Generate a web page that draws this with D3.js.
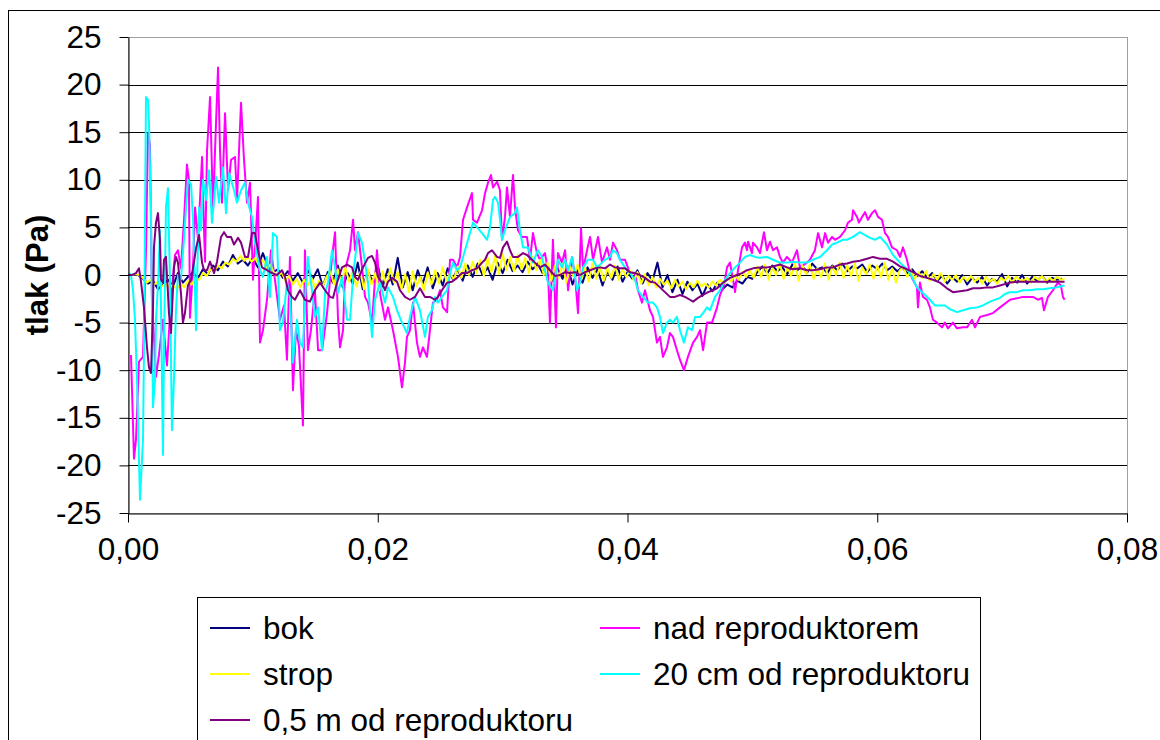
<!DOCTYPE html>
<html><head><meta charset="utf-8">
<script src="https://cdn.jsdelivr.net/npm/d3@7"></script>
<style>
html,body{margin:0;padding:0;background:#fff;}
svg{display:block;}
text{font-family:"Liberation Sans",Arial,sans-serif;}
</style></head><body>
<svg id="chart" width="1160" height="740"></svg>
<script>
// ---------- DATA ----------
const seriesNames = ["bok", "nad reproduktorem", "strop", "20 cm od reproduktoru", "0,5 m od reproduktoru"];
const seriesColors = ["#000080", "#ff00ff", "#ffff00", "#00ffff", "#800080"];
const yTicks = [-25, -20, -15, -10, -5, 0, 5, 10, 15, 20, 25];
const xTicks = [0, 0.02, 0.04, 0.06, 0.08];
const yTitle = "tlak (Pa)";

// bok: regularly sampled (every 0.4 ms), values in Pa
const bokStepMs = 0.4;
const bokValues = [0,0,0,
-0.4,-0.9,-0.6,-1.5,-1.0,
-0.5,-1.2,0.2,-0.8,-0.2,0.3,-0.4,
0.6,0.1,1.0,0.5,1.4,0.9,2.1,1.2,1.6,1.0,1.8,
0.8,2.3,0.9,0.3,
0.6,-0.3,0.4,-0.6,0.2,-0.8,0.5,-0.4,
0.6,-1.2,0.3,-0.8,1.0,-1.3,0.2,-0.9,1.3,-1.5,0.4,-0.7,1.0,-1.2,0.6,-1.0,1.8,-1.3,0.3,-1.6,0.5,-0.9,0.8,-1.4,0.2,-1.1,0.7,
-0.4,0.6,-0.6,1.0,-0.2,1.2,0.0,0.8,-0.5,1.3,0.2,1.6,0.4,1.0,0.3,1.4,0.6,1.2,0.2,1.1,
-0.6,0.7,-0.4,0.9,-1.0,0.5,-0.8,0.8,-0.3,0.6,-1.1,0.4,-0.5,0.9,-0.7,0.3,-0.4,0.5,-0.9,0.2,
-0.6,1.3,-1.3,0.0,-1.8,-0.5,-2.0,-0.7,-1.6,-0.9,-2.2,-1.0,-1.7,-0.8,-1.5,
-1.0,-1.3,-0.6,-0.9,-0.2,-0.4,
0.3,0.9,0.2,1.0,0.4,0.8,0.1,1.1,0.5,0.9,0.3,1.2,0.6,0.8,0.2,1.0,0.5,1.2,0.4,0.9,0.7,1.1,0.3,1.0,0.6,1.2,0.5,0.9,0.4,
0.8,0.2,0.6,-0.1,0.4,-0.3,0.2,-0.6,-0.1,-0.9,-0.2,-0.7,0.0,-1.0,-0.3,-0.8,-0.2,-1.1,-0.4,-0.7,0.1,-1.2,-0.3,-0.8,0.0,-0.9,-0.2,-0.6,-0.1,-0.8,-0.3,-0.5,-0.4];

// strop: regularly sampled (every 0.3 ms), values in Pa
const stropStepMs = 0.3;
const stropValues = [0,0,0.1,0,
-0.3,-0.8,-0.5,-1.0,-0.7,-1.2,-0.9,-1.4,-1.0,-1.5,
-0.9,-1.3,-0.6,-1.0,-0.3,-0.5,0.2,-0.1,0.6,0.4,1.0,0.7,1.3,
1.1,1.7,1.4,2.0,1.5,1.9,1.4,
1.8,1.0,1.6,0.6,1.1,0.2,
-0.2,0.3,-0.6,-0.1,-1.0,-0.4,-1.3,-0.5,-1.1,-0.3,-1.4,-0.6,-1.2,-0.2,
0.4,-1.0,0.6,-0.9,0.8,-0.7,0.5,-1.2,0.3,-1.5,0.6,-1.0,0.2,-1.6,0.4,-1.1,0.7,-0.8,0.3,-1.5,0.1,-1.8,0.4,-1.2,-0.2,-1.6,0.3,-1.0,0.5,-0.9,0.8,-0.6,0.2,
-0.5,0.9,-0.3,1.2,0.0,1.4,0.2,1.6,-0.1,1.8,0.3,2.0,0.1,2.2,0.5,1.9,0.4,
2.1,0.6,1.8,0.2,1.9,0.5,1.6,0.0,1.3,
-0.6,1.0,-0.3,1.2,-0.8,0.9,-0.2,1.1,-0.5,0.8,-0.7,1.2,-0.4,0.9,-0.6,0.7,-0.3,1.0,-0.5,0.6,-0.2,
0.5,-0.6,0.3,-0.9,0.1,-1.1,-0.2,-1.3,-0.4,-1.0,-0.6,-1.4,-0.5,-1.2,-0.7,-1.5,-0.8,-1.3,-0.6,-1.2,
-0.9,-1.3,-0.7,-1.1,-0.5,-0.9,-0.3,-0.7,0.0,-0.5,0.3,-0.2,0.5,
-0.3,0.9,-0.2,1.1,-0.5,0.8,0.0,1.2,-0.4,0.9,-0.1,1.3,-0.6,1.0,0.1,1.1,-0.4,0.7,-0.2,1.2,-0.5,0.9,0.0,1.3,-0.3,1.0,-0.1,1.2,-0.6,0.8,0.1,1.1,-0.4,1.0,-0.2,1.3,-0.5,0.7,-0.8,0.5,
0.8,-0.2,0.5,-0.4,0.3,-0.3,0.4,-0.6,0.1,-0.5,0.2,-0.7,-0.1,-0.5,0.0,-0.8,-0.2,-0.6,-0.1,-0.7,
-0.3,-0.9,-0.2,-0.7,-0.4,-0.9,-0.3,-0.6,-0.1,-0.8,-0.2,-0.5,-0.6,-0.3,-0.8,-0.2,-0.5,-0.1,-0.7,-0.3,-0.6,-0.2,-0.5,-0.4];

// nad reproduktorem: [time ms, Pa]
const nadReproduktorem = [[0.24,-8.4],[0.48,-19.3],[0.64,-17.3],[0.88,-9.1],[1.20,-8.6],[1.44,2.6],[1.60,14.9],[1.76,13.7],[1.92,-2.6],[2.24,-10.7],[2.48,-8.4],[2.80,-4.7],[3.12,-9.5],[3.44,-2.6],[3.76,2.1],[4.00,2.6],[4.24,0.7],[4.48,5.6],[4.72,11.6],[4.88,10.0],[4.96,-4.5],[5.20,0.5],[5.37,7.1],[5.61,3.7],[5.93,12.4],[6.09,4.7],[6.17,1.4],[6.33,13.1],[6.57,18.7],[6.81,6.8],[6.97,13.1],[7.21,21.8],[7.37,13.1],[7.53,7.6],[7.77,17.0],[8.01,8.9],[8.25,12.1],[8.57,12.4],[8.73,7.9],[9.05,18.1],[9.29,12.1],[9.53,7.6],[9.77,9.7],[10.01,-0.5],[10.41,8.2],[10.57,-7.1],[10.81,-5.8],[11.13,-2.6],[11.45,2.6],[11.77,-0.5],[12.17,-4.7],[12.49,-3.2],[12.73,-8.9],[12.97,1.9],[13.21,-12.1],[13.45,-5.8],[13.69,-7.4],[14.01,-15.8],[14.17,2.6],[14.41,-7.9],[14.65,-5.8],[14.97,-1.6],[15.22,-7.9],[15.54,-7.9],[15.94,-4.0],[16.34,1.9],[16.58,4.5],[16.82,-4.7],[16.98,-7.6],[17.22,-5.8],[17.38,0.5],[17.78,2.6],[18.02,5.8],[18.18,2.6],[18.42,4.5],[18.74,0.8],[18.98,-2.3],[19.22,-2.9],[19.54,-5.0],[19.94,2.6],[20.18,-1.9],[20.58,-4.7],[20.82,-3.4],[21.22,-5.8],[21.62,-8.6],[21.94,-11.8],[22.18,-9.2],[22.34,-6.5],[22.58,-5.8],[22.82,-2.9],[23.14,-7.1],[23.38,-8.6],[23.62,-7.6],[23.94,-8.6],[24.18,-5.8],[24.42,-2.9],[24.74,-2.6],[24.98,-1.6],[25.22,-3.4],[25.55,-3.9],[25.79,1.6],[26.03,1.6],[26.35,0.8],[26.59,1.9],[26.83,5.8],[27.15,7.1],[27.55,8.6],[27.63,5.8],[27.95,5.5],[28.35,6.8],[28.59,8.6],[28.83,9.7],[29.07,10.5],[29.23,9.2],[29.55,9.8],[29.79,8.9],[29.95,3.7],[30.19,6.1],[30.35,9.2],[30.59,6.1],[30.83,10.5],[30.99,7.1],[31.23,4.7],[31.55,4.0],[31.95,4.0],[32.19,1.6],[32.43,4.4],[32.75,2.3],[32.99,1.6],[33.39,2.3],[33.63,0.5],[33.79,-5.0],[34.03,3.7],[34.27,-5.5],[34.43,2.3],[34.75,1.3],[35.00,2.6],[35.24,-1.6],[35.56,1.9],[35.80,-0.2],[36.04,-4.0],[36.28,4.9],[36.44,0.5],[36.76,2.6],[37.00,4.0],[37.24,1.6],[37.64,4.0],[37.96,1.3],[38.36,2.9],[38.60,1.6],[38.84,3.4],[39.16,2.6],[39.40,1.6],[39.80,1.6],[40.20,0.2],[40.60,0.2],[40.84,-1.6],[41.16,-2.9],[41.40,-1.6],[41.80,-3.7],[42.04,-4.4],[42.36,-7.1],[42.60,-6.5],[42.84,-8.6],[43.16,-7.6],[43.40,-6.1],[43.64,-6.5],[43.96,-7.9],[44.20,-8.9],[44.52,-10.0],[44.84,-8.6],[45.25,-7.1],[45.57,-6.5],[45.81,-5.8],[46.05,-7.9],[46.37,-5.0],[46.77,-5.0],[47.17,-3.4],[47.41,-2.1],[47.73,-1.1],[47.97,0.8],[48.21,1.3],[48.45,-0.5],[48.61,-1.8],[48.85,0.5],[49.17,2.9],[49.41,3.4],[49.57,2.6],[49.65,3.5],[49.97,2.3],[50.05,3.4],[50.37,2.9],[50.61,2.3],[50.93,4.5],[51.17,2.6],[51.41,3.5],[51.65,2.6],[51.97,2.9],[52.21,1.9],[52.45,1.3],[52.77,1.9],[53.17,1.3],[53.57,2.6],[53.81,0.8],[54.37,1.3],[54.61,1.6],[55.01,2.6],[55.26,4.4],[55.58,2.9],[55.82,4.4],[56.06,3.4],[56.38,4.0],[56.62,3.7],[57.02,4.0],[57.42,4.7],[57.66,5.5],[57.98,5.8],[58.06,6.8],[58.38,6.1],[58.54,5.5],[58.78,6.1],[59.02,6.6],[59.26,5.8],[59.58,6.5],[59.82,6.8],[60.06,6.1],[60.38,5.8],[60.62,4.4],[60.86,4.0],[61.18,2.9],[61.58,2.6],[61.82,1.9],[62.06,2.9],[62.38,1.6],[62.62,0.2],[62.86,-0.5],[63.18,-1.3],[63.26,-3.4],[63.42,-0.8],[63.66,-2.3],[63.98,-2.6],[64.22,-3.4],[64.46,-4.7],[64.78,-5.0],[65.18,-5.5],[65.42,-5.0],[65.66,-5.6],[66.06,-5.0],[66.38,-5.6],[66.87,-5.5],[67.19,-5.5],[67.59,-4.7],[67.83,-5.5],[68.23,-4.4],[68.79,-4.2],[69.27,-4.0],[69.83,-3.4],[70.63,-2.6],[71.67,-2.3],[72.47,-2.3],[72.87,-2.6],[73.19,-2.4],[73.35,-3.7],[73.67,-2.3],[74.07,-1.6],[74.47,-0.8],[74.71,-1.1],[74.87,-2.3],[75.0,-2.6]];

// 20 cm od reproduktoru: [time ms, Pa]
const cm20OdReproduktoru = [[0.08,0.2],[0.24,0],[0.40,-1.6],[0.56,-4.7],[0.72,-11.0],[0.96,-23.6],[1.20,-17.3],[1.28,-7.9],[1.44,18.7],[1.60,18.4],[1.68,16.0],[1.84,6.8],[2.00,-13.9],[2.16,-11.0],[2.24,-4.7],[2.40,-1.1],[2.56,4.7],[2.80,-18.9],[2.88,-7.9],[3.04,7.1],[3.20,9.1],[3.36,-0.5],[3.52,-16.3],[3.68,-11.0],[3.84,-3.7],[4.00,0],[4.24,-0.5],[4.48,3.7],[4.80,10.0],[5.05,9.5],[5.21,5.8],[5.45,-5.8],[5.53,-0.5],[5.69,7.1],[5.85,4.7],[6.01,10.0],[6.25,7.9],[6.49,11.0],[6.73,5.5],[6.89,7.9],[7.05,10.3],[7.29,7.6],[7.61,11.3],[7.85,6.5],[8.09,10.7],[8.25,10.0],[8.49,8.9],[8.73,7.6],[9.05,8.9],[9.37,9.7],[9.61,7.6],[9.93,6.1],[10.17,3.4],[10.57,0.5],[10.81,-0.2],[11.13,1.9],[11.37,-2.3],[11.61,4.4],[11.93,4.0],[12.17,-5.8],[12.41,-5.0],[12.73,-0.8],[12.97,-2.3],[13.21,-9.2],[13.53,-4.7],[13.77,-7.1],[14.01,-7.6],[14.17,-2.6],[14.41,1.9],[14.73,-1.6],[14.97,-4.4],[15.22,-3.4],[15.54,-7.9],[15.78,-1.9],[16.02,-0.8],[16.34,2.6],[16.58,0.8],[16.82,-1.9],[17.14,-0.2],[17.54,-4.7],[17.78,-4.7],[18.02,-0.2],[18.42,4.4],[18.74,3.4],[18.98,1.3],[19.22,-0.8],[19.54,-6.5],[19.78,-2.6],[20.18,-0.8],[20.58,-2.9],[20.82,-1.3],[21.22,-2.3],[21.54,-3.7],[21.94,-5.0],[22.34,-6.1],[22.58,-4.4],[22.98,-2.3],[23.38,-3.7],[23.78,-6.5],[24.02,-4.4],[24.34,-3.7],[24.58,-2.3],[24.82,-2.9],[25.14,-2.3],[25.55,-1.6],[25.79,0.2],[26.03,1.3],[26.35,0.5],[26.59,0.8],[26.99,2.6],[27.23,3.7],[27.63,5.5],[27.95,5.0],[28.35,4.4],[28.75,3.7],[28.99,5.0],[29.23,7.9],[29.39,8.2],[29.63,7.6],[29.79,5.8],[29.95,3.7],[30.19,4.7],[30.59,6.1],[30.99,6.5],[31.15,7.1],[31.39,4.7],[31.63,2.9],[32.03,2.9],[32.43,1.3],[32.83,2.6],[33.15,1.9],[33.39,0.5],[33.63,-0.8],[34.03,-1.6],[34.43,1.6],[34.75,0.8],[35.00,1.6],[35.24,0.5],[35.56,1.9],[35.96,-1.6],[36.20,-0.8],[36.44,0.8],[36.84,1.6],[37.24,1.6],[37.56,0.8],[37.96,1.3],[38.20,1.6],[38.60,1.9],[38.84,2.6],[39.16,2.3],[39.40,1.6],[39.80,0.8],[40.20,0.2],[40.60,-0.5],[40.84,-1.6],[41.24,-2.3],[41.64,-2.9],[42.04,-2.9],[42.36,-3.4],[42.60,-4.4],[42.84,-6.1],[43.16,-5.0],[43.40,-4.7],[43.64,-5.0],[43.96,-4.4],[44.20,-5.8],[44.52,-7.1],[44.84,-5.5],[45.17,-5.8],[45.41,-4.4],[45.81,-4.4],[46.05,-4.0],[46.37,-3.4],[46.61,-3.7],[47.01,-2.3],[47.41,-1.6],[47.81,-0.5],[48.21,0.2],[48.61,0.8],[49.01,1.3],[49.41,1.9],[49.81,2.1],[50.21,1.9],[50.61,1.8],[51.17,1.9],[51.65,1.6],[52.21,1.3],[52.77,1.3],[53.25,1.4],[53.81,1.3],[54.37,1.3],[54.85,1.6],[55.42,1.9],[55.98,2.6],[56.38,3.2],[56.78,3.4],[57.26,3.7],[57.58,3.7],[58.06,4.0],[58.62,4.5],[59.02,4.2],[59.42,3.9],[59.82,3.7],[60.22,4.0],[60.78,3.2],[61.26,2.1],[61.82,1.3],[62.38,0.6],[62.78,-0.2],[63.18,-1.3],[63.66,-1.9],[64.22,-2.6],[64.62,-3.2],[65.02,-3.2],[65.42,-3.2],[65.83,-3.6],[66.39,-3.9],[66.87,-3.7],[67.43,-3.5],[67.99,-3.4],[68.47,-3.2],[69.03,-2.8],[69.83,-2.4],[70.23,-2.0],[70.63,-1.8],[71.19,-1.8],[71.67,-1.6],[72.23,-1.6],[72.79,-1.5],[73.27,-1.5],[73.83,-1.4],[74.39,-1.3],[74.63,-1.2],[75.0,-1.1]];

// 0,5 m od reproduktoru: [time ms, Pa]
const m05OdReproduktoru = [[0,0],[0.32,0],[0.64,0.2],[0.88,0.7],[1.04,-0.7],[1.28,-3.4],[1.52,-7.6],[1.68,-9.7],[1.84,-10.3],[2.00,-3.7],[2.08,2.9],[2.24,5.5],[2.40,6.5],[2.56,3.7],[2.64,-0.5],[2.80,-0.8],[2.88,1.6],[3.04,1.9],[3.20,-1.9],[3.28,-4.0],[3.44,-6.1],[3.60,-1.6],[3.68,0.8],[3.84,1.9],[4.00,1.3],[4.24,-1.9],[4.40,-5.0],[4.56,-4.0],[4.80,-1.1],[5.05,-0.5],[5.29,1.4],[5.45,2.8],[5.69,4.2],[5.93,1.3],[6.09,0.5],[6.33,0.5],[6.57,1.4],[6.89,0.2],[7.13,1.4],[7.45,4.0],[7.69,4.5],[7.93,4.0],[8.25,4.0],[8.49,3.2],[8.81,3.9],[9.05,3.4],[9.37,1.9],[9.61,1.9],[9.93,4.4],[10.17,4.4],[10.41,2.6],[10.73,0.8],[11.13,0.5],[11.53,0.2],[11.93,0],[12.33,0.5],[12.57,-0.2],[12.81,-1.6],[13.13,-2.3],[13.37,-2.6],[13.77,-1.6],[14.17,-2.6],[14.57,-2.8],[14.97,-1.6],[15.38,-0.8],[15.78,-1.6],[16.18,-2.3],[16.42,-2.4],[16.74,-0.8],[17.14,0.8],[17.54,1.1],[17.94,0.8],[18.18,-0.2],[18.42,-0.5],[18.82,0.8],[19.22,1.8],[19.54,2.0],[19.78,1.3],[20.02,-0.2],[20.34,-0.8],[20.58,-1.6],[20.82,-0.7],[21.14,-0.3],[21.54,-0.7],[21.78,-1.6],[22.18,-2.3],[22.58,-2.6],[22.98,-2.3],[23.38,-1.4],[23.78,-2.3],[24.18,-2.3],[24.58,-2.6],[24.82,-2.3],[25.14,-1.6],[25.55,-0.8],[25.95,-0.7],[26.35,-0.3],[26.75,0.2],[27.15,0.2],[27.55,0.5],[27.95,0.7],[28.35,1.3],[28.59,1.6],[28.83,2.3],[29.15,2.6],[29.55,1.9],[29.79,1.8],[30.03,2.9],[30.35,3.5],[30.59,2.6],[30.83,1.9],[31.23,1.9],[31.63,2.3],[31.95,2.1],[32.35,1.6],[32.59,1.3],[32.99,0.8],[33.39,1.1],[33.79,0.5],[34.19,-0.1],[34.59,0],[35.00,0.3],[35.40,0.2],[35.80,0.3],[36.20,0],[36.60,0.3],[37.00,0.5],[37.40,0.7],[37.80,0.8],[38.20,0.7],[38.60,1.1],[39.00,0.8],[39.40,0.7],[39.80,0.7],[40.20,0.3],[40.60,0.2],[41.00,0],[41.40,-0.3],[41.80,-0.7],[42.20,-0.8],[42.60,-1.3],[43.00,-1.8],[43.40,-2.3],[43.80,-2.3],[44.20,-2.1],[44.60,-2.3],[45.00,-2.6],[45.25,-2.8],[45.65,-2.4],[46.05,-2.1],[46.45,-1.8],[46.85,-1.6],[47.17,-1.4],[47.65,-0.8],[48.21,-0.3],[48.77,0],[49.17,0.2],[49.57,0.5],[50.05,0.7],[50.61,0.8],[51.17,0.8],[51.65,0.9],[52.21,1.1],[52.77,0.8],[53.25,0.6],[53.81,0.7],[54.37,0.5],[54.85,0.5],[55.42,0.6],[55.98,0.8],[56.46,0.8],[57.02,1.1],[57.58,1.2],[58.06,1.4],[58.62,1.5],[59.18,1.7],[59.66,1.9],[60.22,1.7],[60.78,1.7],[61.26,1.4],[61.82,0.9],[62.38,0.6],[62.86,0.3],[63.42,-0.1],[63.98,-0.3],[64.46,-0.5],[65.02,-0.8],[65.58,-1.4],[66.06,-1.8],[66.63,-1.7],[67.19,-1.6],[67.67,-1.4],[68.23,-1.4],[68.79,-1.3],[69.27,-1.3],[69.83,-1.1],[70.63,-0.8],[71.43,-0.7],[72.23,-0.7],[73.03,-0.7],[73.83,-0.7],[74.47,-0.7],[75.0,-0.7]];

// ---------- CHART ----------
const plot = {left: 128, right: 1127, top: 37, bottom: 513};
const FONT = 31.5;

const svg = d3.select("#chart");

const seriesData = [
  bokValues.map((v, i) => [i * bokStepMs, v]),
  nadReproduktorem,
  stropValues.map((v, i) => [i * stropStepMs, v]),
  cm20OdReproduktoru,
  m05OdReproduktoru
];

const x = d3.scaleLinear().domain([0, 0.08]).range([plot.left, plot.right]);
const y = d3.scaleLinear().domain([-25, 25]).range([plot.bottom, plot.top]);

// chart area border
svg.append("rect").attr("x", 8.5).attr("y", 10.5).attr("width", 1200).attr("height", 800)
  .attr("fill", "#fff").attr("stroke", "#000").attr("stroke-width", 1);

// plot area border (grey)
svg.append("rect").attr("x", plot.left + 0.5).attr("y", plot.top + 0.5)
  .attr("width", plot.right - plot.left).attr("height", plot.bottom - plot.top)
  .attr("fill", "none").attr("stroke", "#a0a0a0").attr("stroke-width", 1);

// gridlines
svg.append("g").selectAll("line").data(yTicks.filter(d => d > -25 && d < 25)).join("line")
  .attr("x1", plot.left).attr("x2", plot.right)
  .attr("y1", d => Math.round(y(d)) + 0.5).attr("y2", d => Math.round(y(d)) + 0.5)
  .attr("stroke", "#000").attr("stroke-width", 1);

// series lines
const line = d3.line().x(d => x(d[0] / 1000)).y(d => y(d[1]));
svg.append("g").selectAll("path").data(seriesData).join("path")
  .attr("d", d => line(d))
  .attr("fill", "none")
  .attr("stroke", (d, i) => seriesColors[i])
  .attr("stroke-width", 2)
  .attr("stroke-linejoin", "round");

// axes
const yAxis = d3.axisLeft(y).tickValues(yTicks).tickSize(9).tickSizeOuter(0).tickPadding(18)
  .tickFormat(d => String(d));
const gy = svg.append("g").attr("transform", `translate(${plot.left + 0.5},0)`).call(yAxis);
const xAxis = d3.axisBottom(x).tickValues(xTicks).tickSize(9).tickSizeOuter(0).tickPadding(15)
  .tickFormat(d => d.toFixed(2).replace(".", ","));
const gx = svg.append("g").attr("transform", `translate(0,${plot.bottom + 0.5})`).call(xAxis);
[gx, gy].forEach(g => {
  g.select(".domain").attr("stroke", "#000");
  g.selectAll(".tick line").attr("stroke", "#000");
  g.selectAll(".tick text").attr("fill", "#000").style("font-size", FONT + "px")
    .style("font-family", '"Liberation Sans", Arial, sans-serif');
});

// y title
svg.append("text").attr("transform", `translate(48,275) rotate(-90)`)
  .attr("text-anchor", "middle").style("font-size", "31px").style("font-weight", "bold")
  .text(yTitle);

// legend
const lg = svg.append("g");
lg.append("rect").attr("x", 197.5).attr("y", 597.5).attr("width", 783).attr("height", 200)
  .attr("fill", "#fff").attr("stroke", "#000").attr("stroke-width", 1);
const legendPos = [[0, 0], [1, 0], [0, 1], [1, 1], [0, 2]];
const colX = [210, 600], rowY = [628, 674, 720];
seriesNames.forEach((name, i) => {
  const [c, r] = legendPos[i];
  lg.append("line").attr("x1", colX[c]).attr("x2", colX[c] + 40)
    .attr("y1", rowY[r]).attr("y2", rowY[r])
    .attr("stroke", seriesColors[i]).attr("stroke-width", 2);
  lg.append("text").attr("x", colX[c] + 53).attr("y", rowY[r]).attr("dy", "0.35em")
    .style("font-size", FONT + "px").text(name);
});
</script>
</body></html>
